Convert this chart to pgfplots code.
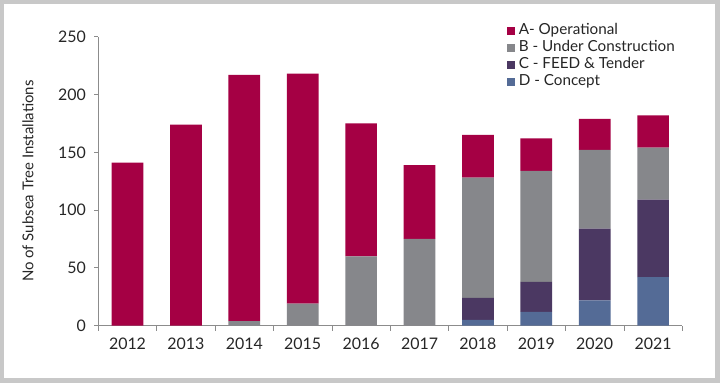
\documentclass[border=0pt]{standalone}
\usepackage{fontspec}
\setmainfont{Lato}
\usepackage{pgfplots}
\pgfplotsset{compat=1.18}
\definecolor{cA}{HTML}{A50044}
\definecolor{cB}{HTML}{86878B}
\definecolor{cC}{HTML}{4B3862}
\definecolor{cD}{HTML}{546B96}
\definecolor{framegray}{HTML}{C8C8C8}
\definecolor{axisgray}{HTML}{8C8C8C}
\begin{document}
\begin{tikzpicture}
\fill[framegray] (0,0) rectangle (720bp,383bp);
\fill[white] (4bp,5bp) rectangle (715bp,379bp);
\begin{axis}[
  at={(98.3bp,57.3bp)}, anchor=south west,
  scale only axis, width=584bp, height=289bp,
  ybar stacked, bar width=31.7bp,
  xmin=-0.5, xmax=9.5, ymin=0, ymax=250,
  xtick={0,1,2,3,4,5,6,7,8,9},
  xticklabels={2012,2013,2014,2015,2016,2017,2018,2019,2020,2021},
  minor xtick={-0.5,0.5,1.5,2.5,3.5,4.5,5.5,6.5,7.5,8.5,9.5},
  ytick={0,50,100,150,200,250},
  major x tick style={draw=none},
  axis lines*=left,
  axis line style={draw=axisgray, line width=0.8bp},
  tick style={draw=axisgray, line width=0.8bp},
  tick align=outside,
  major tick length=4bp, minor tick length=5bp,
  /pgf/number format/assume math mode=true,
  ticklabel style={font=\fontsize{16}{18}\selectfont, text=black!85},
  xticklabel style={yshift=-5bp},
  yticklabel style={xshift=-5bp},
  ylabel={No of Subsea Tree Installations},
  ylabel style={at={(axis description cs:-0.1204,0.5)}, anchor=center, font=\fontsize{15}{17}\selectfont, text=black!85},
  reverse legend,
  legend cell align=left,
  legend style={at={(rel axis cs:0.694,1.053)}, anchor=north west, draw=none, fill=none,
    font=\fontsize{15.3}{17}\selectfont, text=black!85, row sep=3bp,
    nodes={inner sep=0bp, text height=11bp, text depth=3bp},
    /tikz/every odd column/.append style={column sep=4bp}},
  legend image code/.code={\fill[#1] (0bp,-4bp) rectangle (8bp,4bp);},
]
\addplot[fill=cD, draw=none] coordinates {(0,0) (1,0) (2,0) (3,0) (4,0) (5,0) (6,5) (7,12) (8,22) (9,42)};
\addplot[fill=cC, draw=none] coordinates {(0,0) (1,0) (2,0) (3,0) (4,0) (5,0) (6,19) (7,26) (8,62) (9,67)};
\addplot[fill=cB, draw=none] coordinates {(0,0) (1,0) (2,4) (3,19) (4,60) (5,75) (6,104) (7,96) (8,68) (9,45)};
\addplot[fill=cA, draw=none] coordinates {(0,141) (1,174) (2,213) (3,199) (4,115) (5,64) (6,37) (7,28) (8,27) (9,28)};
\legend{D - Concept, C - FEED \& Tender, B - Under Construction, A- Operational}
\end{axis}
\end{tikzpicture}
\end{document}
